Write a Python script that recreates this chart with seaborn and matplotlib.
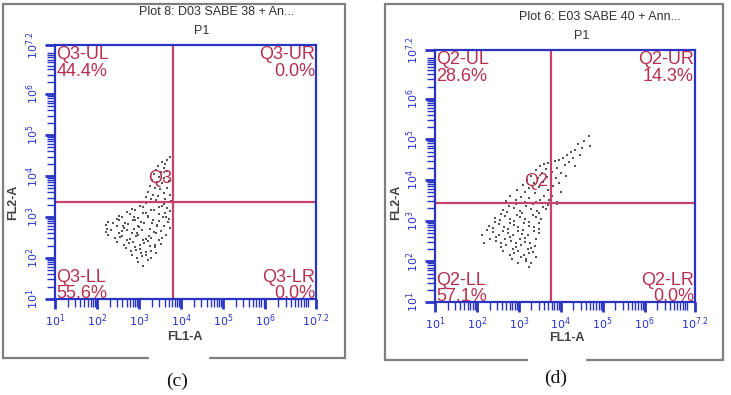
import numpy as np
import pandas as pd
import matplotlib
matplotlib.use("Agg")
import matplotlib.pyplot as plt
import seaborn as sns
from matplotlib.ticker import FixedLocator, NullFormatter
from matplotlib.lines import Line2D

# ---------------- data (log10 units) ----------------
c_x_log = [3.72, 3.65, 3.55, 3.62, 3.45, 3.58, 3.40, 3.52, 3.66, 3.35, 3.48, 3.60, 3.30, 3.42,
           3.55, 3.70, 3.25, 3.38, 3.50, 3.65, 3.20, 3.33, 3.45, 3.58, 3.72, 3.15, 3.28, 3.40,
           3.62, 3.75,
           3.02, 3.17, 3.47, 3.58, 3.73,
           2.83, 3.08, 3.27, 3.53, 3.66,
           2.72, 2.91, 3.15, 3.36, 3.61, 3.73,
           2.53, 2.78, 2.88, 3.09, 3.22, 3.47, 3.63,
           2.47, 2.60, 2.85, 2.98, 3.21, 3.33, 3.57, 3.70,
           2.27, 2.53, 2.66, 2.91, 3.05, 3.31, 3.46, 3.68,
           2.22, 2.37, 2.61, 2.74, 2.98, 3.12, 3.43, 3.58,
           2.23, 2.48, 2.63, 2.88, 2.99, 3.25, 3.42, 3.72,
           2.20, 2.33, 2.58, 2.70, 2.95, 3.07, 3.35, 3.52,
           2.26, 2.51, 2.60, 2.83, 2.97, 3.23, 3.39, 3.64,
           2.42, 2.55, 2.78, 2.92, 3.15, 3.27, 3.53,
           2.48, 2.71, 2.85, 3.08, 3.22, 3.48,
           2.63, 2.75, 3.01, 3.12, 3.38, 3.52,
           2.68, 2.91, 3.02, 3.25, 3.37,
           2.81, 2.92, 3.15, 3.27,
           2.83, 3.05, 3.17, 3.41,
           2.95, 3.07, 3.28,
           2.96, 3.21,
           3.08]
c_y_log = [4.46, 4.40, 4.35, 4.30, 4.25, 4.20, 4.15, 4.10, 4.12, 4.05, 3.98, 3.95, 3.90, 3.85,
           3.82, 3.88, 3.75, 3.70, 3.68, 3.72, 3.60, 3.55, 3.52, 3.58, 3.55, 3.48, 3.45, 3.42,
           3.44, 3.40,
           3.28, 3.34, 3.25, 3.31, 3.36,
           3.19, 3.25, 3.18, 3.26, 3.21,
           3.12, 3.18, 3.11, 3.17, 3.10, 3.15,
           3.03, 3.08, 3.01, 3.09, 3.03, 3.07, 3.00,
           2.95, 3.00, 2.94, 2.97, 3.01, 2.93, 2.99, 2.95,
           2.87, 2.92, 2.86, 2.93, 2.89, 2.85, 2.91, 2.88,
           2.80, 2.85, 2.78, 2.83, 2.79, 2.85, 2.81, 2.77,
           2.71, 2.77, 2.73, 2.70, 2.76, 2.72, 2.77, 2.73,
           2.63, 2.68, 2.65, 2.69, 2.62, 2.68, 2.64, 2.66,
           2.56, 2.60, 2.55, 2.61, 2.57, 2.54, 2.60, 2.56,
           2.48, 2.52, 2.47, 2.53, 2.46, 2.50, 2.49,
           2.40, 2.45, 2.39, 2.43, 2.41, 2.45,
           2.32, 2.36, 2.31, 2.37, 2.33, 2.35,
           2.24, 2.28, 2.23, 2.29, 2.26,
           2.16, 2.20, 2.15, 2.18,
           2.08, 2.12, 2.07, 2.12,
           2.00, 2.04, 2.00,
           1.91, 1.94,
           1.80]

d_x_log = [4.68, 4.55, 4.70, 4.40, 4.50, 4.35, 4.25, 4.45, 4.15, 4.30, 4.05, 3.95, 4.20, 3.85,
           4.10, 3.90, 4.35, 3.80, 4.00, 3.88, 4.12, 3.82, 3.95, 3.80, 3.92, 4.00,
           3.70, 3.60, 3.50, 3.65, 3.40, 3.55, 3.30, 3.45, 3.68, 3.20, 3.35, 3.58, 3.10, 3.25,
           3.48, 3.70, 2.95, 3.15, 3.38, 3.60, 2.80, 3.05, 3.25, 3.50, 3.72, 2.70, 2.92, 3.15,
           3.40,
           2.77, 2.92, 3.18, 3.33, 3.58, 3.70, 3.90,
           2.63, 2.88, 3.02, 3.28, 3.43, 3.65,
           2.57, 2.72, 2.95, 3.07, 3.33, 3.48,
           2.43, 2.68, 2.79, 3.03, 3.15, 3.41, 3.53,
           2.42, 2.55, 2.78, 2.89, 3.13, 3.25, 3.48,
           2.28, 2.53, 2.65, 2.88, 2.99, 3.23, 3.37,
           2.24, 2.39, 2.63, 2.75, 2.98, 3.09, 3.35, 3.47,
           2.13, 2.38, 2.52, 2.75, 2.85, 3.08, 3.22, 3.48,
           2.30, 2.45, 2.68, 2.79, 3.03, 3.15, 3.41,
           2.16, 2.45, 2.57, 2.81, 2.92, 3.15, 3.27,
           2.57, 2.69, 2.93, 3.05, 3.28, 3.39,
           2.62, 2.85, 2.97, 3.21, 3.33,
           2.78, 2.89, 3.13, 3.25,
           2.83, 3.05, 3.17, 3.42,
           2.98, 3.18, 3.30,
           3.25]
d_y_log = [5.08, 4.95, 4.85, 4.88, 4.80, 4.75, 4.68, 4.62, 4.62, 4.55, 4.55, 4.50, 4.45, 4.48,
           4.38, 4.30, 4.35, 4.20, 4.18, 4.05, 4.10, 3.85, 3.92, 3.60, 3.46, 3.70,
           4.42, 4.40, 4.35, 4.28, 4.25, 4.18, 4.10, 4.05, 4.08, 4.00, 3.92, 3.95, 3.88, 3.80,
           3.82, 3.75, 3.75, 3.70, 3.68, 3.62, 3.62, 3.58, 3.55, 3.52, 3.50, 3.48, 3.50, 3.46,
           3.47,
           3.36, 3.41, 3.35, 3.40, 3.34, 3.38, 3.42,
           3.26, 3.31, 3.25, 3.30, 3.24, 3.28,
           3.16, 3.21, 3.15, 3.20, 3.14, 3.18,
           3.06, 3.11, 3.05, 3.10, 3.04, 3.08, 3.05,
           2.96, 3.01, 2.95, 3.00, 2.94, 2.98, 2.95,
           2.86, 2.91, 2.85, 2.90, 2.84, 2.88, 2.85,
           2.76, 2.81, 2.75, 2.80, 2.74, 2.78, 2.75, 2.80,
           2.66, 2.71, 2.65, 2.70, 2.64, 2.68, 2.65, 2.70,
           2.56, 2.61, 2.55, 2.60, 2.54, 2.58, 2.55,
           2.46, 2.51, 2.45, 2.50, 2.44, 2.48, 2.45,
           2.36, 2.41, 2.35, 2.40, 2.34, 2.38,
           2.26, 2.31, 2.25, 2.30, 2.24,
           2.16, 2.21, 2.15, 2.20,
           2.06, 2.11, 2.05, 2.10,
           1.96, 2.01, 1.95,
           1.86]

c_gate_log = [3.80, 3.37]
d_gate_log = [3.77, 3.44]
c_quads = ["Q3-UL\n44.4%", "Q3-UR\n0.0%", "Q3-LL\n55.6%", "Q3-LR\n0.0%", "Q3"]
d_quads = ["Q2-UL\n28.6%", "Q2-UR\n14.3%", "Q2-LL\n57.1%", "Q2-LR\n0.0%", "Q2"]
c_title = "Plot 8: D03 SABE 38 + An..."
d_title = "Plot 6: E03 SABE 40 + Ann..."
tick_exps = [1, 2, 3, 4, 5, 6, 7.2]
tick_labels = [r"$10^{1}$", r"$10^{2}$", r"$10^{3}$", r"$10^{4}$", r"$10^{5}$", r"$10^{6}$", r"$10^{7.2}$"]
x_label, y_label = "FL1-A", "FL2-A"

# ---------------- styling ----------------
sns.set_theme(style="white")
plt.rcParams['font.family'] = ['Liberation Sans', 'DejaVu Sans']

W, H = 731, 395
fig = plt.figure(figsize=(W / 100, H / 100), dpi=100)
fig.patch.set_facecolor("white")

BLUE = "#2a34c4"
GATE = "#c8416a"
QTXT = "#b52f4f"
GRAY = "#7f7f7f"


def fx(px):
    return px / W


def fy(py):
    return 1 - py / H


def frame(x0, x1, y0, y1, gap0, gap1):
    segs = [((x0, x1), (y0, y0)), ((x0, x0), (y0, y1)), ((x1, x1), (y0, y1)),
            ((x0, gap0), (y1, y1)), ((gap1, x1), (y1, y1))]
    for xs, ys in segs:
        fig.add_artist(Line2D([fx(v) for v in xs], [fy(v) for v in ys],
                              color=GRAY, lw=1.6, transform=fig.transFigure))


def panel(box, xl, yl, gate, quads, qpos):
    left, top, right, bottom = box
    ax = fig.add_axes([fx(left), fy(bottom), fx(right) - fx(left), fy(top) - fy(bottom)])
    df = pd.DataFrame({"FL1": np.power(10.0, xl), "FL2": np.power(10.0, yl)})
    sns.scatterplot(data=df, x="FL1", y="FL2", ax=ax, s=2.2, marker="s",
                    color="#555555", linewidth=0, legend=False)
    ax.set_xscale("log")
    ax.set_yscale("log")
    lo, hi = 10 ** tick_exps[0], 10 ** tick_exps[-1]
    ax.set_xlim(lo, hi)
    ax.set_ylim(lo, hi)
    ax.axvline(10 ** gate[0], color=GATE, lw=1.6)
    ax.axhline(10 ** gate[1], color=GATE, lw=1.6)
    for s in ax.spines.values():
        s.set_color(BLUE)
        s.set_linewidth(1.6)
    ticks = [10.0 ** e for e in tick_exps]
    minors = [m * 10.0 ** d for d in range(1, 7) for m in range(2, 10)] + [1e7]
    for axis in (ax.xaxis, ax.yaxis):
        axis.set_major_locator(FixedLocator(ticks))
        axis.set_minor_locator(FixedLocator(minors))
        axis.set_minor_formatter(NullFormatter())
    ax.set_xticklabels(tick_labels)
    ax.set_yticklabels(tick_labels, rotation=90, va="center")
    ax.tick_params(axis="both", which="major", direction="out", length=7, width=2,
                   color=BLUE, labelcolor=BLUE, labelsize=8, pad=3,
                   bottom=True, left=True)
    ax.tick_params(axis="both", which="minor", direction="out", length=6, width=1,
                   color=BLUE, bottom=True, left=True)
    ax.set_xlabel("")
    ax.set_ylabel("")
    fs = 13
    kw = dict(transform=ax.transAxes, color=QTXT, fontsize=fs, linespacing=0.95)
    ax.text(0.006, 0.995, quads[0], ha="left", va="top", **kw)
    ax.text(0.996, 0.995, quads[1], ha="right", va="top", **kw)
    ax.text(0.006, -0.012, quads[2], ha="left", va="bottom", **kw)
    ax.text(0.996, -0.012, quads[3], ha="right", va="bottom", **kw)
    ax.text(qpos[0], qpos[1], quads[4], ha="right", va="bottom", **kw)
    return ax


# left panel (c)
frame(3, 345, 4, 358, 148, 210)
panel((55, 45, 316, 299), c_x_log, c_y_log, c_gate_log, c_quads, (0.448, 0.44))
fig.text(fx(217), fy(12), c_title, ha="center", va="center", fontsize=9, color="#303030")
fig.text(fx(202), fy(31), "P1", ha="center", va="center", fontsize=9, color="#303030")
fig.text(fx(185), fy(337), x_label, ha="center", va="center", fontsize=9,
         fontweight="bold", color="#404040")
fig.text(fx(13), fy(202), y_label, ha="center", va="center", fontsize=9,
         fontweight="bold", color="#404040", rotation=90)
fig.text(fx(177), fy(381), "(c)", ha="center", va="center", fontsize=14,
         family="Liberation Serif", color="#111111")

# right panel (d)
frame(385, 723, 4, 360, 527, 587)
panel((435, 50, 695, 302), d_x_log, d_y_log, d_gate_log, d_quads, (0.435, 0.444))
fig.text(fx(600), fy(17), d_title, ha="center", va="center", fontsize=9, color="#303030")
fig.text(fx(582), fy(36), "P1", ha="center", va="center", fontsize=9, color="#303030")
fig.text(fx(567), fy(338), x_label, ha="center", va="center", fontsize=9,
         fontweight="bold", color="#404040")
fig.text(fx(396), fy(202), y_label, ha="center", va="center", fontsize=9,
         fontweight="bold", color="#404040", rotation=90)
fig.text(fx(556), fy(378), "(d)", ha="center", va="center", fontsize=14,
         family="Liberation Serif", color="#111111")

fig.savefig("out.png", dpi=100, facecolor="white")
